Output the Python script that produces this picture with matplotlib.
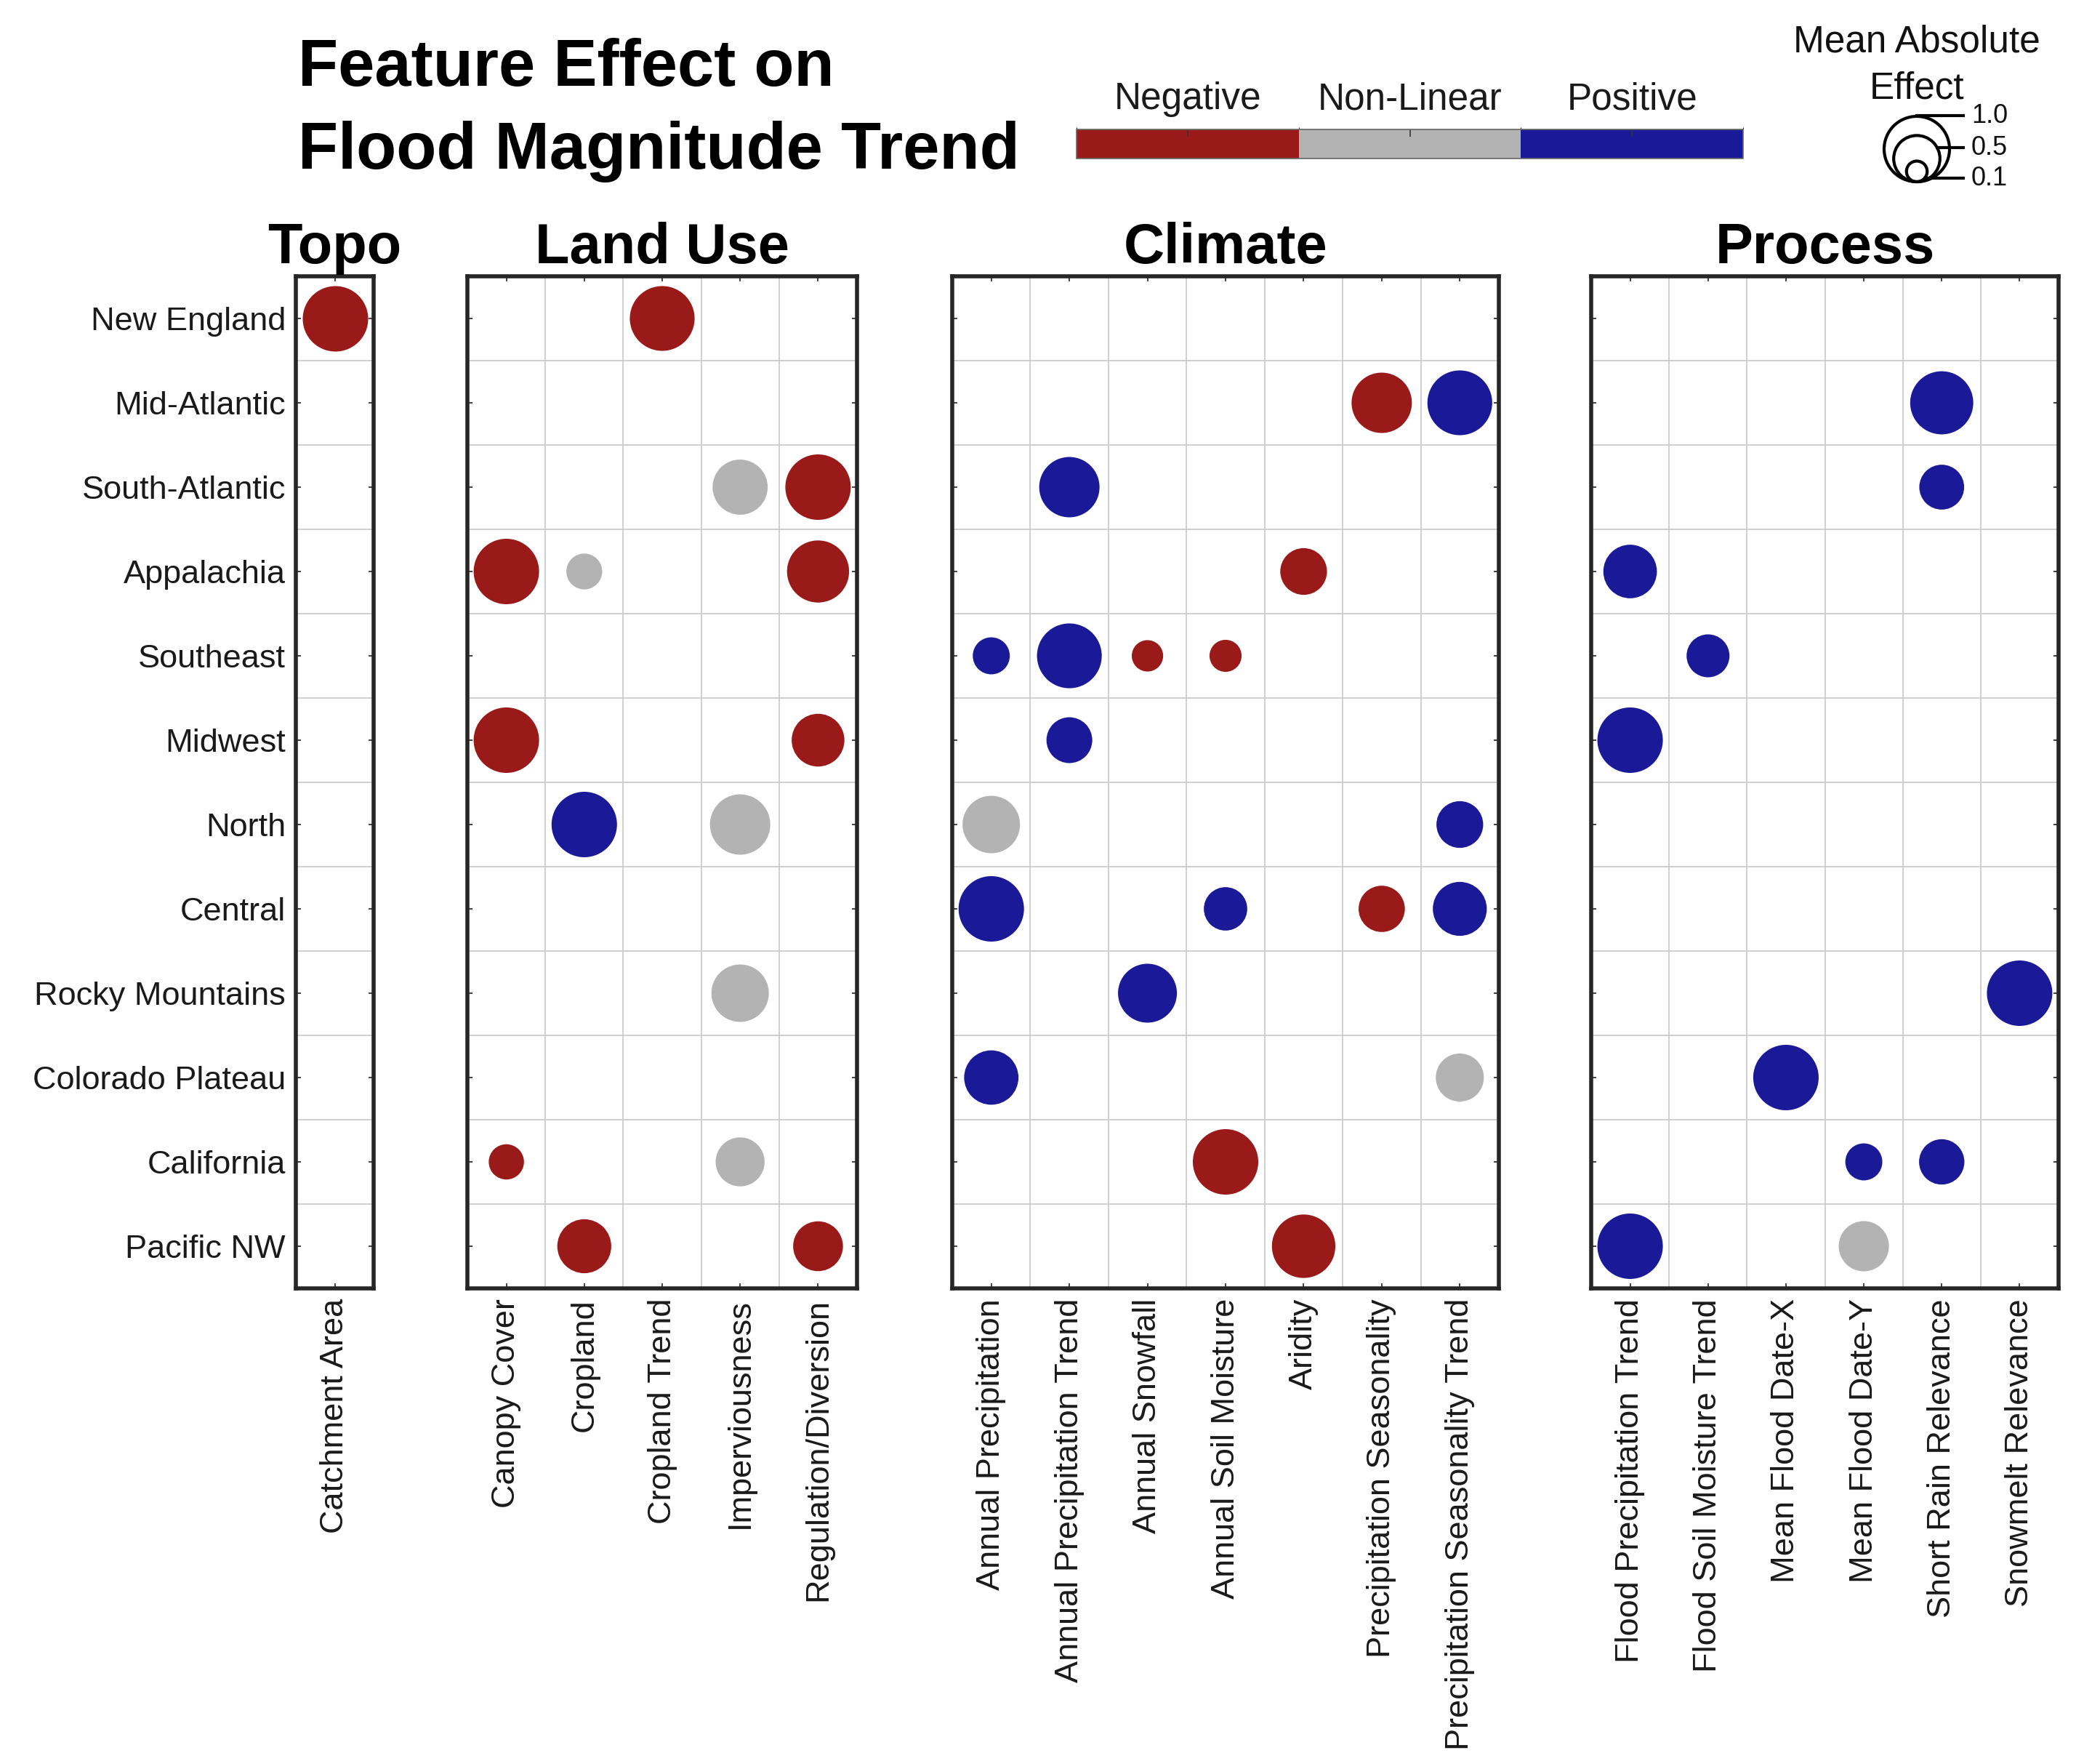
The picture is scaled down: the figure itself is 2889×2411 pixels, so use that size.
import numpy as np
import matplotlib
matplotlib.use("Agg")
import matplotlib.pyplot as plt
from matplotlib.colors import ListedColormap, BoundaryNorm
from matplotlib.cm import ScalarMappable

plt.rcParams['font.family'] = ['Liberation Sans', 'DejaVu Sans']

# ---- data ----
regions = ["New England", "Mid-Atlantic", "South-Atlantic", "Appalachia", "Southeast",
           "Midwest", "North", "Central", "Rocky Mountains", "Colorado Plateau",
           "California", "Pacific NW"]

# direction codes: N = negative, L = non-linear, P = positive, . = none
topo_features = ["Catchment Area"]
topo_size = [[1.00], [0], [0], [0], [0], [0], [0], [0], [0], [0], [0], [0]]
topo_dir = ["N", ".", ".", ".", ".", ".", ".", ".", ".", ".", ".", "."]

landuse_features = ["Canopy Cover", "Cropland", "Cropland Trend", "Imperviousness",
                    "Regulation/Diversion"]
landuse_size = [
    [0, 0, 0.98, 0, 0],
    [0, 0, 0, 0, 0],
    [0, 0, 0, 0.71, 1.00],
    [1.00, 0.30, 0, 0, 0.90],
    [0, 0, 0, 0, 0],
    [1.00, 0, 0, 0, 0.65],
    [0, 1.00, 0, 0.85, 0],
    [0, 0, 0, 0, 0],
    [0, 0, 0, 0.77, 0],
    [0, 0, 0, 0, 0],
    [0.29, 0, 0, 0.56, 0],
    [0, 0.68, 0, 0, 0.58],
]
landuse_dir = ["..N..", ".....", "...LN", "NL..N", ".....", "N...N",
               ".P.L.", ".....", "...L.", ".....", "N..L.", ".N..N"]

climate_features = ["Annual Precipitation", "Annual Precipitation Trend", "Annual Snowfall",
                    "Annual Soil Moisture", "Aridity", "Precipitation Seasonality",
                    "Precipitation Seasonality Trend"]
climate_size = [
    [0, 0, 0, 0, 0, 0, 0],
    [0, 0, 0, 0, 0, 0.85, 0.98],
    [0, 0.85, 0, 0, 0, 0, 0],
    [0, 0, 0, 0, 0.51, 0, 0],
    [0.32, 0.98, 0.23, 0.24, 0, 0, 0],
    [0, 0.49, 0, 0, 0, 0, 0],
    [0.77, 0, 0, 0, 0, 0, 0.51],
    [1.00, 0, 0, 0.44, 0, 0.50, 0.68],
    [0, 0, 0.81, 0, 0, 0, 0],
    [0.69, 0, 0, 0, 0, 0, 0.54],
    [0, 0, 0, 1.00, 0, 0, 0],
    [0, 0, 0, 0, 0.94, 0, 0],
]
climate_dir = [".......", ".....NP", ".P.....", "....N..", "PPNN...", ".P.....",
               "L.....P", "P..P.NP", "..P....", "P.....L", "...N...", "....N.."]

process_features = ["Flood Precipitation Trend", "Flood Soil Moisture Trend",
                    "Mean Flood Date-X", "Mean Flood Date-Y", "Short Rain Relevance",
                    "Snowmelt Relevance"]
process_size = [
    [0, 0, 0, 0, 0, 0],
    [0, 0, 0, 0, 0.93, 0],
    [0, 0, 0, 0, 0.47, 0],
    [0.67, 0, 0, 0, 0, 0],
    [0, 0.43, 0, 0, 0, 0],
    [1.00, 0, 0, 0, 0, 0],
    [0, 0, 0, 0, 0, 0],
    [0, 0, 0, 0, 0, 0],
    [0, 0, 0, 0, 0, 1.00],
    [0, 0, 1.00, 0, 0, 0],
    [0, 0, 0, 0.32, 0.48, 0],
    [1.00, 0, 0, 0.59, 0, 0],
]
process_dir = ["......", "....P.", "....P.", "P.....", ".P....", "P.....",
               "......", "......", ".....P", "..P...", "...PP.", "P..L.."]

legend_values = [1.0, 0.5, 0.1]
dir_labels = ["Negative", "Non-Linear", "Positive"]

# ---- style ----
colors = {"N": "#9a1a1a", "L": "#b3b3b3", "P": "#1a1a99"}
W, H = 2889, 2411
TOP, BOT = 380, 1772
S1 = (90 * 72 / 100) ** 2   # marker area (pt^2) for effect 1.0
dark = "#262626"

fig = plt.figure(figsize=(W / 100, H / 100), dpi=100)

panels = [
    ("Topo", topo_features, topo_size, topo_dir, 407, 514),
    ("Land Use", landuse_features, landuse_size, landuse_dir, 643, 1179),
    ("Climate", climate_features, climate_size, climate_dir, 1310, 2062),
    ("Process", process_features, process_size, process_dir, 2189, 2832),
]

for k, (title, feats, size, dirs, x0, x1) in enumerate(panels):
    ax = fig.add_axes([x0 / W, 1 - BOT / H, (x1 - x0) / W, (BOT - TOP) / H])
    n = len(feats)
    xs, ys, ss, cs = [], [], [], []
    for i, row in enumerate(size):
        for j, v in enumerate(row):
            if v > 0:
                xs.append(j)
                ys.append(i)
                ss.append(v * S1)
                cs.append(colors[dirs[i][j]])
    ax.scatter(xs, ys, s=ss, c=cs, linewidths=0, zorder=3)
    ax.set_xlim(-0.5, n - 0.5)
    ax.set_ylim(len(regions) - 0.5, -0.5)
    ax.set_xticks(range(n), labels=feats, rotation=90)
    ax.set_yticks(range(len(regions)))
    ax.set_yticklabels(regions if k == 0 else [])
    ax.set_xticks(np.arange(-0.5, n), minor=True)
    ax.set_yticks(np.arange(-0.5, len(regions)), minor=True)
    ax.set_axisbelow(True)
    ax.grid(which="minor", color="#cfcfcf", lw=1.4)
    ax.tick_params(which="major", direction="in", top=True, right=True, length=5,
                   width=1.3, color="#333333", labelsize=32.5, labelcolor="#1a1a1a", pad=10)
    ax.tick_params(which="minor", length=0)
    for sp in ax.spines.values():
        sp.set_linewidth(4)
        sp.set_color(dark)
    ax.set_title(title, fontsize=56, fontweight="bold", pad=13)

# colorbar legend for direction
cax = fig.add_axes([1481 / W, 1 - 218 / H, 917 / W, 40 / H])
sm = ScalarMappable(norm=BoundaryNorm([0, 1, 2, 3], 3),
                    cmap=ListedColormap([colors["N"], colors["L"], colors["P"]]))
cb = fig.colorbar(sm, cax=cax, orientation="horizontal")
cb.set_ticks([0.5, 1.5, 2.5], labels=dir_labels)
cax.xaxis.set_ticks_position("top")
cax.tick_params(direction="in", length=7, width=1.2, color="#333333", labelsize=37,
                labelcolor="#1a1a1a", pad=12)
cb.outline.set_edgecolor("#666666")
cb.outline.set_linewidth(1.2)

# header overlay in pixel coordinates
hdr = fig.add_axes([0, 0, 1, 1], zorder=-1)
hdr.set_xlim(0, W)
hdr.set_ylim(H, 0)
hdr.axis("off")
hdr.text(410, 118, "Feature Effect on", fontsize=65, fontweight="bold", va="baseline")
hdr.text(410, 232, "Flood Magnitude Trend", fontsize=65, fontweight="bold", va="baseline")
hdr.text(2637, 71, "Mean Absolute", fontsize=37, ha="center", va="baseline", color="#111111")
hdr.text(2637, 135, "Effect", fontsize=37, ha="center", va="baseline", color="#111111")

cx, base = 2637, 250
for v, ly in zip(legend_values, [159, 203, 245]):
    d = np.sqrt(v) * 90
    cy = base - d / 2
    hdr.scatter(cx, cy, s=v * S1, facecolors="none", edgecolors="black", linewidths=3)
    dx = np.sqrt(max((d / 2) ** 2 - (ly - cy) ** 2, 0))
    hdr.plot([cx + dx, 2701], [ly, ly], color="black", lw=3)
    hdr.text(2712, ly, f"{v:.1f}", fontsize=26, va="center", ha="left", color="#111111")

fig.savefig("out.png", dpi=100)
